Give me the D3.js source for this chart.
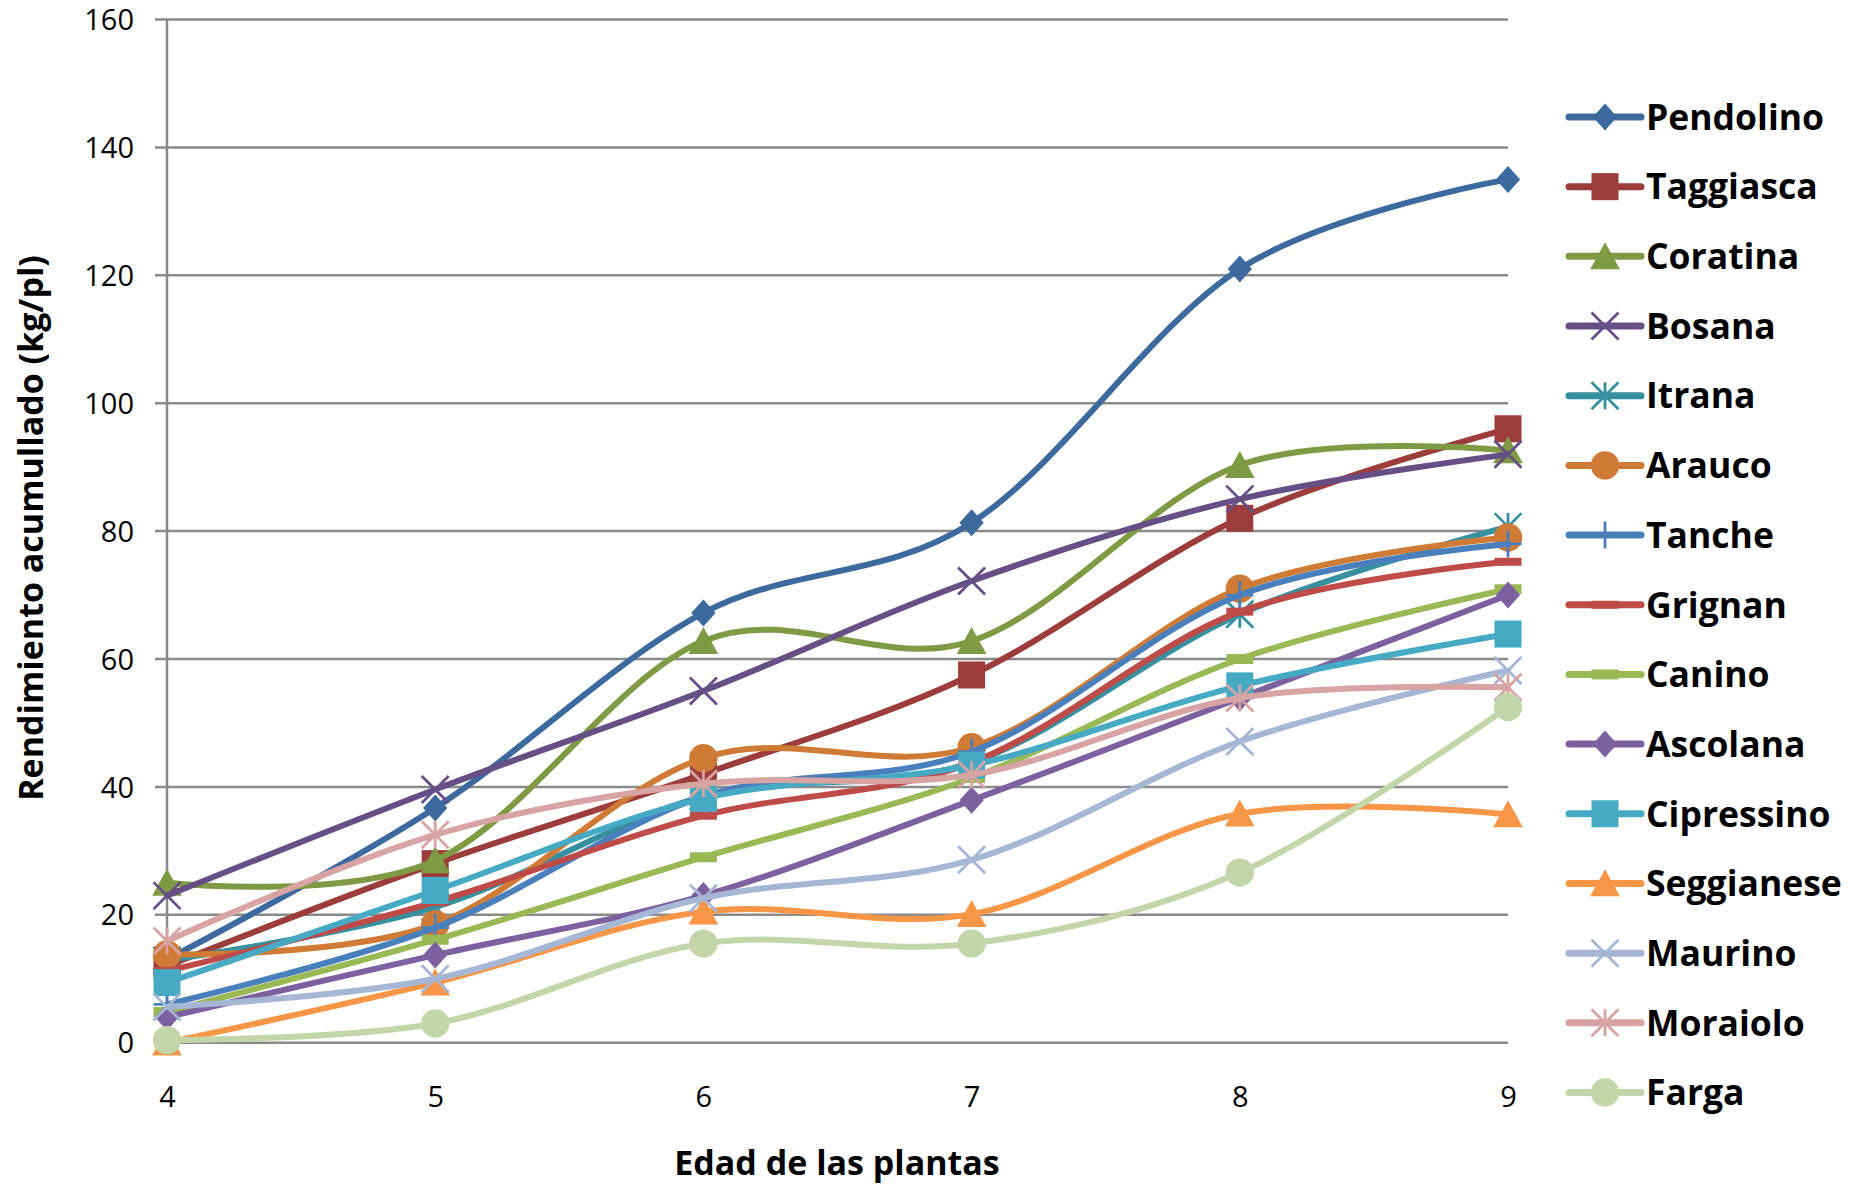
<!DOCTYPE html>
<html>
<head>
<meta charset="utf-8">
<script src="https://cdn.jsdelivr.net/npm/d3@7"></script>
<style>
  html, body { margin: 0; padding: 0; background: #fff; }
  svg { display: block; }
  text { font-family: "Open Sans", "Liberation Sans", sans-serif; fill: #000; }
</style>
</head>
<body>
<svg id="chart" width="1854" height="1187"></svg>
<script>
// Plant age (years)
const ages = [4, 5, 6, 7, 8, 9];
const yTicks = [0, 20, 40, 60, 80, 100, 120, 140, 160];

// Cumulative yield per cultivar (kg/plant)
const pendolino  = [13, 36.7, 67.2, 81.3, 121, 135];
const taggiasca  = [12, 28, 42, 57.5, 82, 96];
const coratina   = [25, 28.5, 62.8, 62.8, 90.3, 92.6];
const bosana     = [23, 39.6, 55, 72.2, 85, 92];
const itrana     = [12.9, 21.2, 38.5, 43.8, 67, 80.7];
const arauco     = [13.8, 18.5, 44.5, 46.2, 71, 79];
const tanche     = [6, 18, 38.5, 45.5, 70, 78];
const grignan    = [11.2, 22, 35.5, 43.8, 67.4, 75.2];
const canino     = [4.8, 16.1, 29, 41.4, 60, 70.9];
const ascolana   = [4, 13.7, 23, 37.9, 53.9, 70];
const cipressino = [9.4, 23.8, 38.2, 43.4, 55.8, 63.9];
const seggianese = [0, 9.4, 20.5, 20.1, 35.8, 35.7];
const maurino    = [5.6, 10, 22.6, 28.6, 47.1, 58.2];
const moraiolo   = [15.9, 32.5, 40.5, 41.9, 53.9, 55.6];
const farga      = [0.4, 3, 15.5, 15.5, 26.6, 52.5];

const names   = ["Pendolino", "Taggiasca", "Coratina", "Bosana", "Itrana", "Arauco", "Tanche",
                 "Grignan", "Canino", "Ascolana", "Cipressino", "Seggianese", "Maurino", "Moraiolo", "Farga"];
const values  = [pendolino, taggiasca, coratina, bosana, itrana, arauco, tanche,
                 grignan, canino, ascolana, cipressino, seggianese, maurino, moraiolo, farga];
const colors  = ["#3C6A9F", "#9D3D3B", "#7E9B43", "#654F85", "#37909F", "#CF7B35", "#4A7FBD",
                 "#BE4B48", "#98B954", "#7D60A0", "#46AAC5", "#F79646", "#A5B7D5", "#D8A3A3", "#C3D6AA"];
const markers = ["diamond", "square", "triangle", "x", "star", "circle", "plus",
                 "shortdash", "longdash", "diamond", "square", "triangle", "x", "star", "circle"];

const svg = d3.select("#chart");

const x = d3.scaleLinear().domain([4, 9]).range([167, 1508]);
const y = d3.scaleLinear().domain([0, 160]).range([1042.7, 19.5]);

// Horizontal gridlines with the short tick stubs left of the axis
const grid = svg.append("g");
grid.selectAll("line.grid").data(yTicks).join("line")
  .attr("x1", 155).attr("x2", x(9))
  .attr("y1", d => y(d)).attr("y2", d => y(d))
  .attr("stroke", "#8A8A8A").attr("stroke-width", 2.5);

// Value axis line
grid.append("line")
  .attr("x1", x(4)).attr("x2", x(4))
  .attr("y1", y(160)).attr("y2", y(0))
  .attr("stroke", "#8A8A8A").attr("stroke-width", 2.5);

// Y tick labels
const yAxis = d3.axisLeft(y).tickValues(yTicks).tickSize(0).tickPadding(0);
const gy = svg.append("g").attr("transform", "translate(134,0)").call(yAxis);
gy.select(".domain").remove();
gy.selectAll("text")
  .attr("font-size", 29).attr("font-family", "'Open Sans', sans-serif")
  .attr("fill", "#000").attr("dy", "0.35em");

// X tick labels
const xAxis = d3.axisBottom(x).tickValues(ages).tickSize(0).tickPadding(0).tickFormat(d3.format("d"));
const gx = svg.append("g").attr("transform", "translate(0,1097)").call(xAxis);
gx.select(".domain").remove();
gx.selectAll("text")
  .attr("font-size", 29).attr("font-family", "'Open Sans', sans-serif")
  .attr("fill", "#000").attr("dy", "0.35em");

// Axis titles
svg.append("text")
  .attr("x", 837).attr("y", 1175)
  .attr("text-anchor", "middle")
  .attr("font-size", 34).attr("font-weight", 700)
  .text("Edad de las plantas");

svg.append("text")
  .attr("transform", "translate(43,528) rotate(-90)")
  .attr("text-anchor", "middle")
  .attr("font-size", 34).attr("font-weight", 700)
  .text("Rendimiento acumullado (kg/pl)");

// Marker drawing
function drawMarker(g, type, color) {
  const s = 13.5;
  switch (type) {
    case "diamond":
      g.append("path").attr("d", `M0,${-s}L${s * 0.9},0L0,${s}L${-s * 0.9},0Z`).attr("fill", color);
      break;
    case "square":
      g.append("rect").attr("x", -s).attr("y", -s).attr("width", 2 * s).attr("height", 2 * s).attr("fill", color);
      break;
    case "triangle":
      g.append("path").attr("d", `M0,${-s * 1.05}L${s * 1.1},${s * 0.95}L${-s * 1.1},${s * 0.95}Z`).attr("fill", color);
      break;
    case "circle":
      g.append("circle").attr("r", s * 1.05).attr("fill", color);
      break;
    case "x":
      g.append("path").attr("d", `M${-s},${-s}L${s},${s}M${-s},${s}L${s},${-s}`)
        .attr("stroke", color).attr("stroke-width", 2.8).attr("fill", "none");
      break;
    case "star":
      g.append("path").attr("d", `M${-s},${-s}L${s},${s}M${-s},${s}L${s},${-s}M0,${-s}L0,${s}`)
        .attr("stroke", color).attr("stroke-width", 2.8).attr("fill", "none");
      break;
    case "plus":
      g.append("path").attr("d", `M0,${-s}L0,${s}M${-s},0L${s},0`)
        .attr("stroke", color).attr("stroke-width", 2.8).attr("fill", "none");
      break;
    case "shortdash":
      g.append("rect").attr("x", -s).attr("y", -4).attr("width", 2 * s).attr("height", 8).attr("fill", color);
      break;
    case "longdash":
      g.append("rect").attr("x", -s).attr("y", -5).attr("width", 2 * s).attr("height", 10).attr("fill", color);
      break;
  }
}

// Smoothed series lines
const line = d3.line()
  .x((d, i) => x(ages[i]))
  .y(d => y(d))
  .curve(d3.curveCardinal.tension(0));

const plot = svg.append("g");
names.forEach((name, k) => {
  const g = plot.append("g");
  g.append("path")
    .attr("d", line(values[k]))
    .attr("fill", "none")
    .attr("stroke", colors[k])
    .attr("stroke-width", 6)
    .attr("stroke-linecap", "round")
    .attr("stroke-linejoin", "round");
  values[k].forEach((v, i) => {
    const m = g.append("g").attr("transform", `translate(${x(ages[i])},${y(v)})`);
    drawMarker(m, markers[k], colors[k]);
  });
});

// Legend
const legend = svg.append("g");
const legY = d3.scaleLinear().domain([0, names.length - 1]).range([117, 1092.5]);
names.forEach((name, k) => {
  const g = legend.append("g").attr("transform", `translate(0,${legY(k)})`);
  g.append("line")
    .attr("x1", 1569).attr("x2", 1641)
    .attr("y1", 0).attr("y2", 0)
    .attr("stroke", colors[k]).attr("stroke-width", 7)
    .attr("stroke-linecap", "round");
  const m = g.append("g").attr("transform", "translate(1605,0)");
  drawMarker(m, markers[k], colors[k]);
  g.append("text")
    .attr("x", 1646).attr("y", 0).attr("dy", "0.36em")
    .attr("font-size", 35.5).attr("font-weight", 700)
    .text(name);
});
</script>
</body>
</html>
